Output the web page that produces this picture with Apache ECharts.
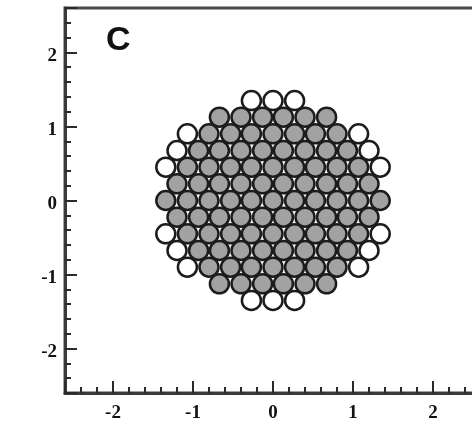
<!DOCTYPE html>
<html>
<head>
<meta charset="utf-8">
<script src="https://cdn.jsdelivr.net/npm/echarts@6/dist/echarts.min.js"></script>
<style>
html,body{margin:0;padding:0;background:#fff;}
#chart{width:472px;height:428px;}
</style>
</head>
<body>
<div id="chart"></div>
<script>
// Row centre heights (y) of the hexagonally packed circles, top to bottom
const rowY = [1.35, 1.125, 0.9, 0.675, 0.45, 0.225, 0, -0.225, -0.45, -0.675, -0.9, -1.125, -1.35];
// x centres of the grey (inner) circles in each row
const grayRowsX = [
  [],
  [-0.67, -0.4, -0.13, 0.13, 0.4, 0.67],
  [-0.8, -0.53, -0.27, 0, 0.27, 0.53, 0.8],
  [-0.93, -0.67, -0.4, -0.13, 0.13, 0.4, 0.67, 0.93],
  [-1.07, -0.8, -0.53, -0.27, 0, 0.27, 0.53, 0.8, 1.07],
  [-1.2, -0.93, -0.67, -0.4, -0.13, 0.13, 0.4, 0.67, 0.93, 1.2],
  [-1.34, -1.07, -0.8, -0.53, -0.27, 0, 0.27, 0.53, 0.8, 1.07, 1.34],
  [-1.2, -0.93, -0.67, -0.4, -0.13, 0.13, 0.4, 0.67, 0.93, 1.2],
  [-1.07, -0.8, -0.53, -0.27, 0, 0.27, 0.53, 0.8, 1.07],
  [-0.93, -0.67, -0.4, -0.13, 0.13, 0.4, 0.67, 0.93],
  [-0.8, -0.53, -0.27, 0, 0.27, 0.53, 0.8],
  [-0.67, -0.4, -0.13, 0.13, 0.4, 0.67],
  []
];
// x centres of the white (outer shell) circles in each row
const whiteRowsX = [
  [-0.27, 0, 0.27],
  [],
  [-1.07, 1.07],
  [-1.2, 1.2],
  [-1.34, 1.34],
  [],
  [],
  [],
  [-1.34, 1.34],
  [-1.2, 1.2],
  [-1.07, 1.07],
  [],
  [-0.27, 0, 0.27]
];
const panelLabel = 'C';

function toPoints(rowsX) {
  const pts = [];
  rowsX.forEach((xs, i) => xs.forEach(x => pts.push([x, rowY[i]])));
  return pts;
}

const chart = echarts.init(document.getElementById('chart'), null, {renderer: 'canvas'});

const labelFont = {
  color: '#111',
  fontFamily: 'Liberation Serif',
  fontWeight: 'bold',
  fontSize: 19
};
const intLabel = v => (Math.abs(v - Math.round(v)) < 1e-9 ? String(Math.round(v)) : '');

const axisCommon = {
  type: 'value',
  min: -2.6,
  max: 2.6,
  splitNumber: 5,
  axisLine: {show: true, onZero: false, lineStyle: {color: '#3a3a3a', width: 3}},
  axisTick: {show: true, inside: true, length: 12, lineStyle: {color: '#2a2a2a', width: 2}},
  minorTick: {show: true, splitNumber: 5, length: 6, lineStyle: {color: '#2a2a2a', width: 2}},
  splitLine: {show: false},
  minorSplitLine: {show: false}
};

const option = {
  animation: false,
  backgroundColor: '#ffffff',
  grid: {
    left: 65, top: 8, width: 416, height: 385,
    containLabel: false,
    outerBoundsMode: 'none',
    show: true, borderColor: '#4a4a4a', borderWidth: 3, backgroundColor: 'transparent'
  },
  xAxis: Object.assign({}, axisCommon, {
    position: 'bottom',
    axisLabel: Object.assign({}, labelFont, {margin: 11, formatter: intLabel})
  }),
  yAxis: Object.assign({}, axisCommon, {
    position: 'left',
    axisLabel: Object.assign({}, labelFont, {
      margin: 8,
      formatter: v => { const s = intLabel(v); return s ? '{a|' + s + '}' : ''; },
      rich: {a: Object.assign({}, labelFont, {padding: [8, 0, 0, 0]})}
    })
  }),
  graphic: [{
    type: 'text',
    left: 106,
    top: 24,
    style: {text: panelLabel, font: 'bold 34px "Liberation Sans"', fill: '#111'}
  }],
  series: [
    {
      type: 'scatter',
      data: toPoints(grayRowsX),
      symbol: 'circle',
      symbolSize: 19,
      itemStyle: {color: '#a2a2a2', borderColor: '#1c1c1c', borderWidth: 2.5, opacity: 1}
    },
    {
      type: 'scatter',
      data: toPoints(whiteRowsX),
      symbol: 'circle',
      symbolSize: 19,
      itemStyle: {color: '#ffffff', borderColor: '#1c1c1c', borderWidth: 2.5, opacity: 1}
    }
  ]
};

chart.setOption(option);
</script>
</body>
</html>
